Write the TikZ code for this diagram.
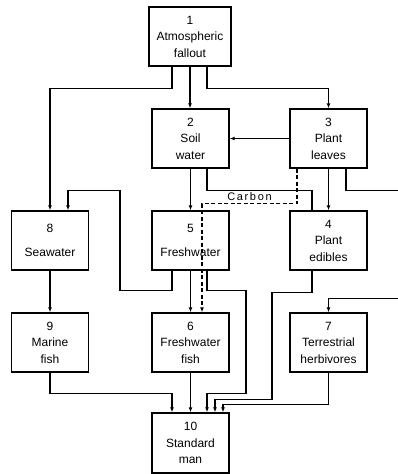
\documentclass[tikz,border=0pt]{standalone}
\usepackage{fontspec}
\setmainfont{Liberation Sans}
\usetikzlibrary{arrows.meta,positioning}

\tikzset{
  box/.style={draw, line width=1.4pt, minimum width=77pt, minimum height=59pt, align=center, inner sep=1pt, font=\fontsize{12}{16.5}\selectfont},
  flow/.style={line width=1.1pt, -{Latex[length=5pt,width=4pt]}},
  plain/.style={line width=1.1pt},
  carbonflow/.style={flow, dashed, dash pattern=on 4pt off 2.5pt}
}

\begin{document}
\begin{tikzpicture}[x=1pt, y=-1pt]
\useasboundingbox (0,0) rectangle (397,474);

% Compartments
\node[box, minimum width=82pt] (atm) at (190,36.5) {1\\Atmospheric\\fallout};
\node[box] (soil) at (190.5,138.5) {2\\Soil\\water};
\node[box] (leaves) at (328.5,138.5) {3\\Plant\\leaves};
\node[box] (sea) at (50,240.5) {8\\[7pt]Seawater};
\node[box] (fresh) at (190.5,240.5) {5\\[7pt]Freshwater};
\node[box] (edibles) at (328.5,240.5) {4\\Plant\\edibles};
\node[box] (marine) at (50,342.5) {9\\Marine\\fish};
\node[box] (fwfish) at (190.5,342.5) {6\\Freshwater\\fish};
\node[box] (herb) at (328.5,342.5) {7\\Terrestrial\\herbivores};
\node[box, minimum height=60pt] (man) at (190.5,443) {10\\Standard\\man};

% From fallout
\draw[flow] ([xshift=-18pt]atm.south) -- ++(0,22) -| (sea.north);
\draw[flow] (atm.south) -- (atm.south |- soil.north);
\draw[flow] ([xshift=17pt]atm.south) -- ++(0,22) -| (leaves.north);

% From plant leaves
\draw[flow] (leaves.west) -- (soil.east);
\draw[flow] (leaves.south) -- (edibles.north);
\draw[flow] ([xshift=17.5pt]leaves.south) -- ++(0,22) -- ++(80,0) -- ++(0,108) -| (herb.north);
\draw[carbonflow] ([xshift=-31.5pt]leaves.south) -- ++(0,35) -| node[pos=0.25, above=-1pt, font=\fontsize{11}{13}\selectfont\addfontfeature{LetterSpace=15}] (carbon) {Carbon} ([xshift=11.5pt]fwfish.north);

% From soil water
\draw[flow] (soil.south) -- (fresh.north);
\draw[plain] ([xshift=16.5pt]soil.south) -- ++(0,22) -| ([xshift=-16.5pt]edibles.north);

% From freshwater
\draw[flow] ([xshift=-18.5pt]fresh.south) -- ++(0,20) -- ++(-52,0) -- ++(0,-100) -| ([xshift=18pt]sea.north);
\draw[flow] (fresh.south) -- (fwfish.north);
\draw[flow] ([xshift=16.5pt]fresh.south) -- ++(0,20) -- ++(39,0) -- ++(0,103) -| ([xshift=16.5pt]man.north);

% Lower chain
\draw[flow] (sea.south) -- (marine.north);
\draw[flow] (marine.south) -- ++(0,21) -| ([xshift=-18.5pt]man.north);
\draw[flow] (fwfish.south) -- (man.north);
\draw[flow] ([xshift=-16.5pt]edibles.south) -- ++(0,22) -- ++(-40,0) -- ++(0,107) -| ([xshift=24.5pt]man.north);
\draw[flow] (herb.south) -- ++(0,32) -| ([xshift=32.5pt]man.north);
\end{tikzpicture}
\end{document}
